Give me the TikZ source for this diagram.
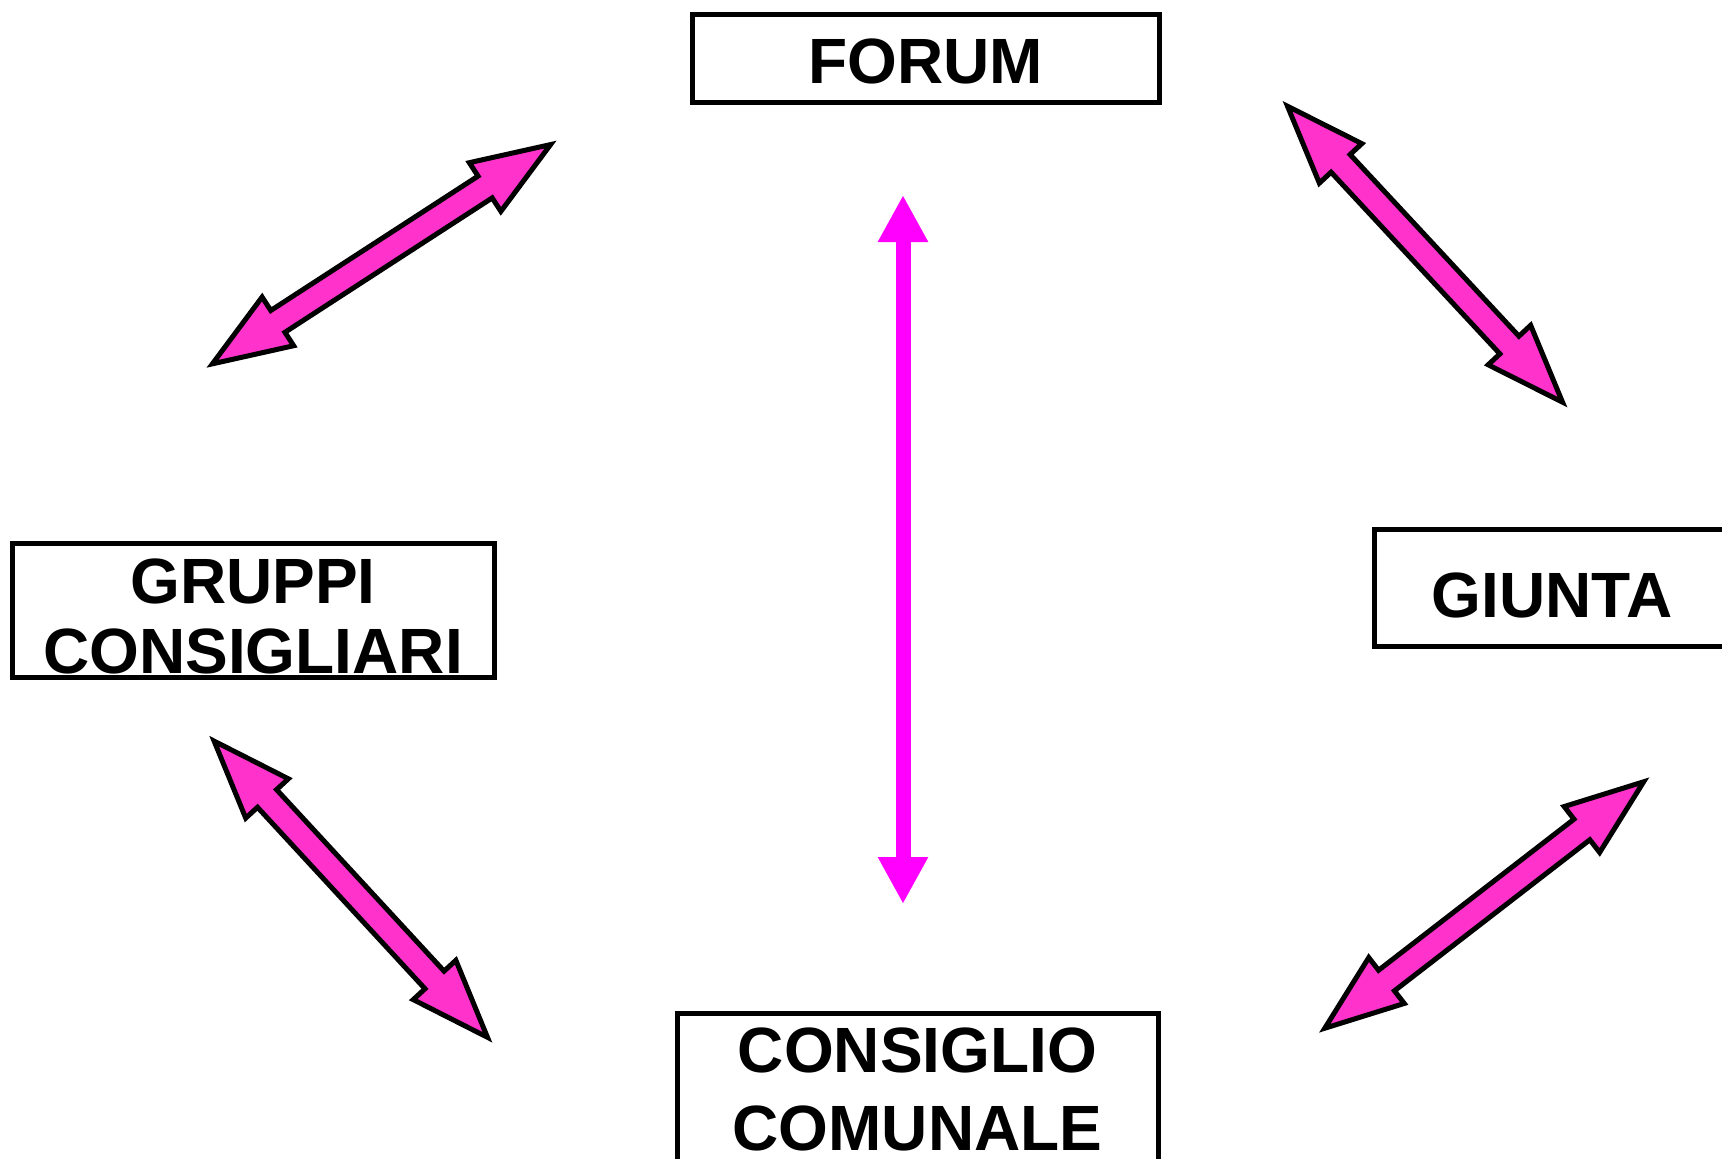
\documentclass[tikz,border=0pt]{standalone}
\usepackage{fontspec}
\setmainfont{Liberation Sans}
\usetikzlibrary{arrows.meta}
\definecolor{pinkfill}{RGB}{255,51,204}
\definecolor{linkmagenta}{RGB}{255,0,255}
\begin{document}
\begin{tikzpicture}[x=1pt,y=-1pt,
  box/.style={draw=black,line width=5pt,fill=white,inner sep=0pt,align=center,
    font=\bfseries\fontsize{64}{70}\selectfont},
  blockarrow/.style={draw=black,line width=5pt,fill=pinkfill,line join=miter},
  vlink/.style={draw=linkmagenta,line width=15pt,
    {Triangle[width=47pt,length=47pt]}-{Triangle[width=47pt,length=47pt]}},
  pics/dblarrow/.style={code={
    \draw[blockarrow] ({-#1/2},0) -- ({-#1/2+78},29) -- ({-#1/2+78},13)
      -- ({#1/2-78},13) -- ({#1/2-78},29) -- ({#1/2},0)
      -- ({#1/2-78},-29) -- ({#1/2-78},-13) -- ({-#1/2+78},-13)
      -- ({-#1/2+78},-29) -- cycle;
  }}]
\path[use as bounding box,fill=white] (0,0) rectangle (1722,1159);

% boxes
\node[box,minimum width=467pt,minimum height=88pt,text height=50pt,text depth=0pt]
  (forum) at (925.5,58) {FORUM};
\node[box,minimum width=482pt,minimum height=134pt,text height=126pt,text depth=0pt]
  (gruppi) at (253,610) {GRUPPI\\CONSIGLIARI};
\node[box,minimum width=356pt,minimum height=117pt,text height=59pt,text depth=0pt]
  (giunta) at (1552,587.5) {GIUNTA};
\node[box,minimum width=481pt,minimum height=150pt,text height=124pt,text depth=0pt,
  font=\bfseries\fontsize{64}{78}\selectfont]
  (consiglio) at (917.5,1088) {CONSIGLIO\\COMUNALE};

% vertical arrow
\coordinate (vtop) at (903,195);
\coordinate (vbot) at (903,904);
\draw[vlink] (vtop) -- (vbot);

% block double arrows
\pic[rotate=32.96] at (381.5,254.2) {dblarrow=403};
\pic[rotate=-47.1] at (1425,254.2) {dblarrow=404};
\pic[rotate=-47.3] at (350.8,889.2) {dblarrow=403};
\pic[rotate=37.7] at (1484.2,905) {dblarrow=403};
\end{tikzpicture}
\end{document}
